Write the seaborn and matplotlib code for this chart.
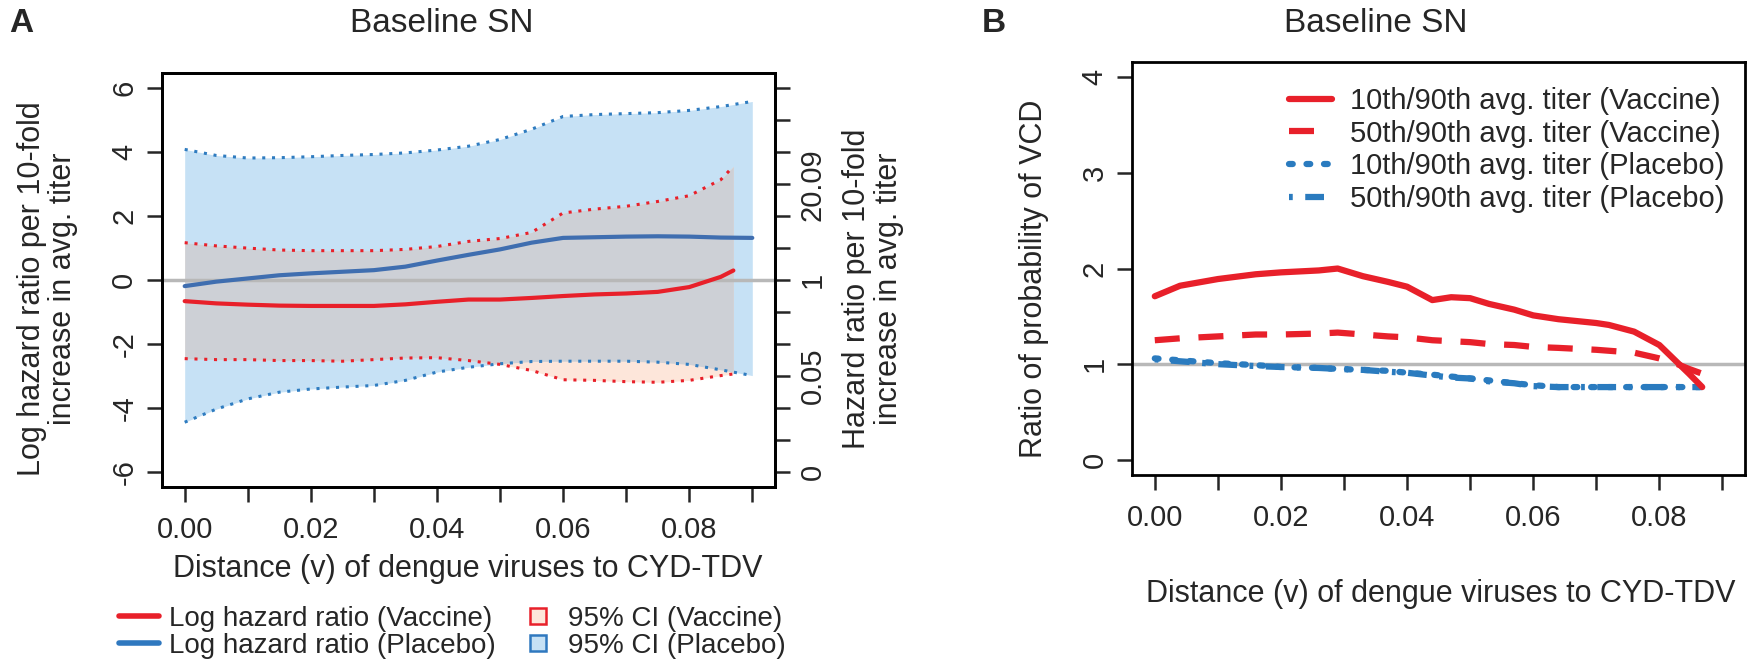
import numpy as np
import pandas as pd
import matplotlib
matplotlib.use("Agg")
import matplotlib.pyplot as plt
import seaborn as sns
from matplotlib.lines import Line2D

sns.set_style("ticks")
plt.rcParams["font.family"] = ["Liberation Sans", "DejaVu Sans"]

# panel A: log hazard ratio vs distance
dist_plc = [0.000, 0.005, 0.010, 0.015, 0.020, 0.025, 0.030, 0.035, 0.040, 0.045,
            0.050, 0.055, 0.060, 0.065, 0.070, 0.075, 0.080, 0.085, 0.090]
lhr_plc = [-0.19, -0.05, 0.05, 0.15, 0.21, 0.26, 0.31, 0.42, 0.61, 0.79,
           0.96, 1.17, 1.32, 1.34, 1.36, 1.37, 1.36, 1.33, 1.32]
plc_hi = [4.09, 3.90, 3.82, 3.83, 3.86, 3.90, 3.93, 3.98, 4.07, 4.19,
          4.40, 4.72, 5.12, 5.18, 5.21, 5.24, 5.31, 5.43, 5.59]
plc_lo = [-4.45, -4.04, -3.72, -3.51, -3.41, -3.35, -3.30, -3.14, -2.88, -2.73,
          -2.62, -2.55, -2.54, -2.54, -2.54, -2.57, -2.64, -2.81, -2.99]

dist_vac = [0.000, 0.005, 0.010, 0.015, 0.020, 0.025, 0.030, 0.035, 0.040, 0.045,
            0.050, 0.055, 0.060, 0.065, 0.070, 0.075, 0.080, 0.085, 0.087]
lhr_vac = [-0.66, -0.73, -0.77, -0.80, -0.81, -0.81, -0.81, -0.76, -0.68, -0.61,
           -0.61, -0.56, -0.50, -0.45, -0.42, -0.37, -0.22, 0.10, 0.30]
vac_hi = [1.17, 1.07, 1.00, 0.94, 0.92, 0.92, 0.92, 0.96, 1.05, 1.21,
          1.30, 1.49, 2.10, 2.22, 2.31, 2.46, 2.64, 3.14, 3.56]
vac_lo = [-2.46, -2.49, -2.49, -2.52, -2.52, -2.54, -2.49, -2.44, -2.43, -2.52,
          -2.64, -2.83, -3.12, -3.14, -3.18, -3.20, -3.14, -2.99, -2.94]

# panel B: ratio of probability of VCD
dist_rr = [0.000, 0.004, 0.010, 0.016, 0.020, 0.026, 0.029, 0.033, 0.037, 0.040,
           0.044, 0.047, 0.050, 0.053, 0.057, 0.060, 0.064, 0.070, 0.072, 0.076,
           0.080, 0.0825, 0.0847, 0.0868]
rr10_vac = [1.71, 1.82, 1.89, 1.94, 1.96, 1.98, 2.00, 1.92, 1.86, 1.81,
            1.67, 1.70, 1.69, 1.63, 1.57, 1.51, 1.47, 1.43, 1.41, 1.34,
            1.20, 1.04, 0.90, 0.76]
rr50_vac = [1.25, 1.27, 1.29, 1.31, 1.31, 1.32, 1.33, 1.31, 1.29, 1.28,
            1.25, 1.24, 1.23, 1.21, 1.20, 1.18, 1.17, 1.15, 1.14, 1.12,
            1.06, 1.01, 0.95, 0.90]
rr10_plc = [1.06, 1.04, 1.01, 0.99, 0.97, 0.96, 0.95, 0.94, 0.93, 0.91,
            0.89, 0.87, 0.85, 0.83, 0.80, 0.78, 0.76, 0.76, 0.76, 0.76,
            0.76, 0.76, 0.76, 0.76]
rr50_plc = [1.05, 1.03, 1.00, 0.98, 0.97, 0.96, 0.95, 0.94, 0.92, 0.91,
            0.88, 0.86, 0.85, 0.82, 0.80, 0.77, 0.76, 0.76, 0.76, 0.76,
            0.76, 0.76, 0.76, 0.76]

x_ticks = [0.00, 0.01, 0.02, 0.03, 0.04, 0.05, 0.06, 0.07, 0.08, 0.09]
x_labels = ["0.00", "", "0.02", "", "0.04", "", "0.06", "", "0.08", ""]

RED = "#e8202a"
BLUE_LINE = "#3f6eb0"
BLUE_DOT = "#2f7cc0"
BLUE_FILL = "#c6e1f5"
PEACH_FILL = "#fde6da"
GRAY_FILL = "#cdd0d6"
REF_GRAY = "#b8b8b8"
FS = 21

fig = plt.figure(figsize=(17.53, 6.70), dpi=100)
axA = fig.add_axes([0.0924, 0.273, 0.3497, 0.618])
axB = fig.add_axes([0.6458, 0.291, 0.3497, 0.6164])


def style_axis(ax):
    for s in ax.spines.values():
        s.set_linewidth(2.0)
        s.set_color("black")
    ax.tick_params(direction="out", length=11, width=1.8, labelsize=FS, pad=6)
    ax.tick_params(axis="x", pad=10)


# ---- panel A ----
pv = pd.DataFrame({"d": dist_plc, "est": lhr_plc, "lo": plc_lo, "hi": plc_hi})
vv = pd.DataFrame({"d": dist_vac, "est": lhr_vac, "lo": vac_lo, "hi": vac_hi})

axA.fill_between(pv["d"], pv["lo"], pv["hi"], color=BLUE_FILL, lw=0, zorder=1)
axA.fill_between(vv["d"], vv["lo"], vv["hi"], color=PEACH_FILL, lw=0, zorder=1)
p_lo_on_v = np.interp(vv["d"], pv["d"], pv["lo"])
p_hi_on_v = np.interp(vv["d"], pv["d"], pv["hi"])
axA.fill_between(vv["d"], np.maximum(vv["lo"], p_lo_on_v), np.minimum(vv["hi"], p_hi_on_v),
                 color=GRAY_FILL, lw=0, zorder=1.1)
axA.axhline(0, color=REF_GRAY, lw=2.5, zorder=1.5)

dots = (0, (1, 2.2))
sns.lineplot(data=pv, x="d", y="hi", ax=axA, color=BLUE_DOT, lw=2.2, linestyle=dots, zorder=2)
sns.lineplot(data=pv, x="d", y="lo", ax=axA, color=BLUE_DOT, lw=2.2, linestyle=dots, zorder=2)
sns.lineplot(data=vv, x="d", y="hi", ax=axA, color=RED, lw=2.2, linestyle=dots, zorder=2)
sns.lineplot(data=vv, x="d", y="lo", ax=axA, color=RED, lw=2.2, linestyle=dots, zorder=2)
sns.lineplot(data=pv, x="d", y="est", ax=axA, color=BLUE_LINE, lw=3.0, zorder=3)
sns.lineplot(data=vv, x="d", y="est", ax=axA, color=RED, lw=3.0, zorder=3)

axA.set_xlim(-0.0036, 0.0936)
axA.set_ylim(-6.48, 6.48)
axA.set_xticks(x_ticks)
axA.set_xticklabels(x_labels)
axA.set_yticks([-6, -4, -2, 0, 2, 4, 6])
axA.set_yticklabels(["-6", "-4", "-2", "0", "2", "4", "6"], rotation=90, va="center")
axA.set_xlabel("")
axA.set_ylabel("")
style_axis(axA)

axA2 = axA.twinx()
axA2.set_ylim(axA.get_ylim())
right_ticks = list(range(-6, 7))
right_labels = [f"{round(float(np.exp(t)), 2):g}" if t in (-6, -3, 0, 3) else "" for t in right_ticks]
axA2.set_yticks(right_ticks)
axA2.set_yticklabels(right_labels, rotation=90, va="center")
style_axis(axA2)

fig.text(0.027, 0.569, "Log hazard ratio per 10-fold\nincrease in avg. titer",
         rotation=90, ha="center", va="center", fontsize=22, linespacing=1.05)
fig.text(0.498, 0.569, "Hazard ratio per 10-fold\nincrease in avg. titer",
         rotation=90, ha="center", va="center", fontsize=22, linespacing=1.05)
fig.text(0.267, 0.150, "Distance (v) of dengue viruses to CYD-TDV",
         ha="center", va="center", fontsize=22)
fig.text(0.252, 0.965, "Baseline SN", ha="center", va="center", fontsize=24)
fig.text(0.012, 0.965, "A", ha="center", va="center", fontsize=24, fontweight="bold")

handles = [
    Line2D([], [], color=RED, lw=4),
    Line2D([], [], color="#2f78bf", lw=4),
    Line2D([], [], ls="none", marker="s", markersize=11, markerfacecolor=PEACH_FILL,
           markeredgecolor=RED, markeredgewidth=1.8),
    Line2D([], [], ls="none", marker="s", markersize=11, markerfacecolor=BLUE_FILL,
           markeredgecolor="#2f78bf", markeredgewidth=1.8),
]
labels = ["Log hazard ratio (Vaccine)", "Log hazard ratio (Placebo)",
          "95% CI (Vaccine)", "95% CI (Placebo)"]
fig.legend(handles, labels, ncol=2, loc="center", bbox_to_anchor=(0.258, 0.056),
           frameon=False, fontsize=20, handlelength=1.45, handletextpad=0.35,
           columnspacing=0.8, labelspacing=0.02, borderpad=0)

# ---- panel B ----
rb = pd.DataFrame({"d": dist_rr, "v10": rr10_vac, "v50": rr50_vac,
                   "p10": rr10_plc, "p50": rr50_plc})
axB.axhline(1, color=REF_GRAY, lw=2.5, zorder=1)
sns.lineplot(data=rb, x="d", y="v10", ax=axB, color=RED, lw=4.5, zorder=3,
             label="10th/90th avg. titer (Vaccine)")
sns.lineplot(data=rb, x="d", y="v50", ax=axB, color=RED, lw=4.5, zorder=3,
             linestyle=(0, (4, 3)), label="50th/90th avg. titer (Vaccine)")
sns.lineplot(data=rb, x="d", y="p10", ax=axB, color="#2a7bbf", lw=4.5, zorder=2,
             linestyle=(0, (0.6, 2.2)), dash_capstyle="round", label="10th/90th avg. titer (Placebo)")
sns.lineplot(data=rb, x="d", y="p50", ax=axB, color="#2a7bbf", lw=4.5, zorder=2,
             linestyle=(0, (0.6, 2.0, 3, 2.0)), label="50th/90th avg. titer (Placebo)")

axB.set_xlim(-0.0036, 0.0936)
axB.set_ylim(-0.16, 4.16)
axB.set_xticks(x_ticks)
axB.set_xticklabels(x_labels)
axB.set_yticks([0, 1, 2, 3, 4])
axB.set_yticklabels(["0", "1", "2", "3", "4"], rotation=90, va="center")
axB.set_xlabel("")
axB.set_ylabel("")
style_axis(axB)
axB.legend(loc="upper right", bbox_to_anchor=(0.99, 0.975), frameon=False, fontsize=21,
           handlelength=1.5, handletextpad=0.6, labelspacing=0.16, borderpad=0)

fig.text(0.590, 0.584, "Ratio of probability of VCD", rotation=90,
         ha="center", va="center", fontsize=22)
fig.text(0.822, 0.113, "Distance (v) of dengue viruses to CYD-TDV",
         ha="center", va="center", fontsize=22)
fig.text(0.785, 0.965, "Baseline SN", ha="center", va="center", fontsize=24)
fig.text(0.567, 0.965, "B", ha="center", va="center", fontsize=24, fontweight="bold")

plt.savefig("out.png", dpi=100)
